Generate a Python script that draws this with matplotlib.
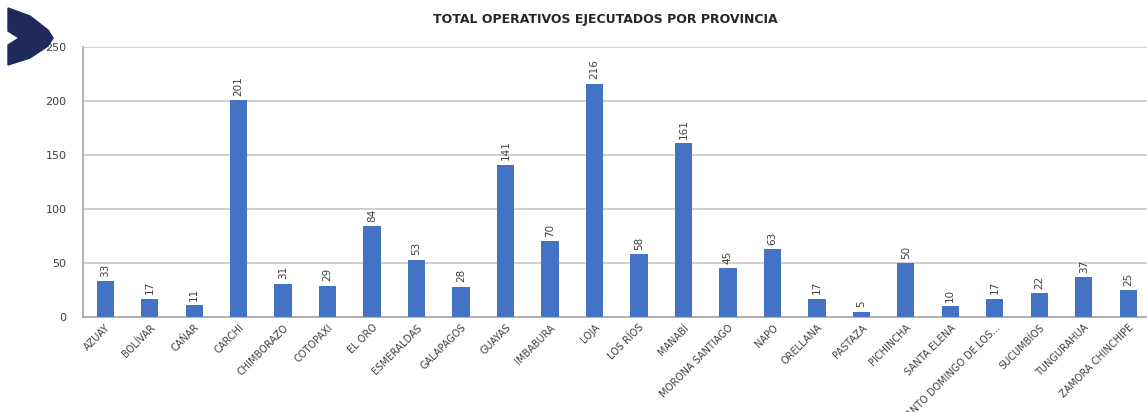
import numpy as np
import matplotlib.pyplot as plt
from matplotlib.patches import Polygon

provincias = ["AZUAY", "BOLÍVAR", "CAÑAR", "CARCHI", "CHIMBORAZO", "COTOPAXI",
              "EL ORO", "ESMERALDAS", "GALAPAGOS", "GUAYAS", "IMBABURA", "LOJA",
              "LOS RÍOS", "MANABÍ", "MORONA SANTIAGO", "NAPO", "ORELLANA", "PASTAZA",
              "PICHINCHA", "SANTA ELENA", "SANTO DOMINGO DE LOS...", "SUCUMBÍOS",
              "TUNGURAHUA", "ZAMORA CHINCHIPE"]
operativos = [33, 17, 11, 201, 31, 29, 84, 53, 28, 141, 70, 216, 58, 161, 45, 63,
              17, 5, 50, 10, 17, 22, 37, 25]

W, H = 1147, 412
fig = plt.figure(figsize=(W / 100, H / 100), dpi=100)
ax = fig.add_axes([83 / W, (H - 317) / H, 1.003 - 83 / W, 270 / H])

x = np.arange(len(provincias))
ax.bar(x, operativos, width=0.39, color="#4472C4", zorder=3)
for xi, v in zip(x, operativos):
    ax.text(xi, v + 4, str(v), rotation=90, ha="center", va="bottom",
            fontsize=7.5, color="#404040")

ax.set_xlim(-0.5, len(provincias) - 0.5)
ax.set_ylim(0, 250)
ax.set_yticks([0, 50, 100, 150, 200, 250])
ax.yaxis.grid(True, color="#c8c8c8", linewidth=1.2, zorder=0)
ax.tick_params(axis="y", length=0, labelsize=8, labelcolor="#404040", pad=12)
ax.tick_params(axis="x", length=0, pad=4)
ax.set_xticks(x)
ax.set_xticklabels(provincias, rotation=45, ha="right", rotation_mode="anchor",
                   fontsize=7, color="#404040")
for s in ["top", "right"]:
    ax.spines[s].set_visible(False)
for s in ["left", "bottom"]:
    ax.spines[s].set_color("#a6a6a6")
    ax.spines[s].set_linewidth(1.2)

fig.text(605 / W, 1 - 20 / H, "TOTAL OPERATIVOS EJECUTADOS POR PROVINCIA",
         ha="center", va="center", fontsize=9, fontweight="bold", color="#262626")

# chevron decoration top-left
pts = np.array([(8, 8), (30, 16), (48, 30), (53, 38), (48, 46), (30, 58), (8, 65),
                (8, 45), (19, 38), (8, 31)], dtype=float)
pts[:, 1] = H - pts[:, 1]
fig.patches.append(Polygon(pts / [W, H], closed=True, transform=fig.transFigure,
                           color="#1f2a5c"))

plt.savefig("out.png", dpi=100, facecolor="white")
